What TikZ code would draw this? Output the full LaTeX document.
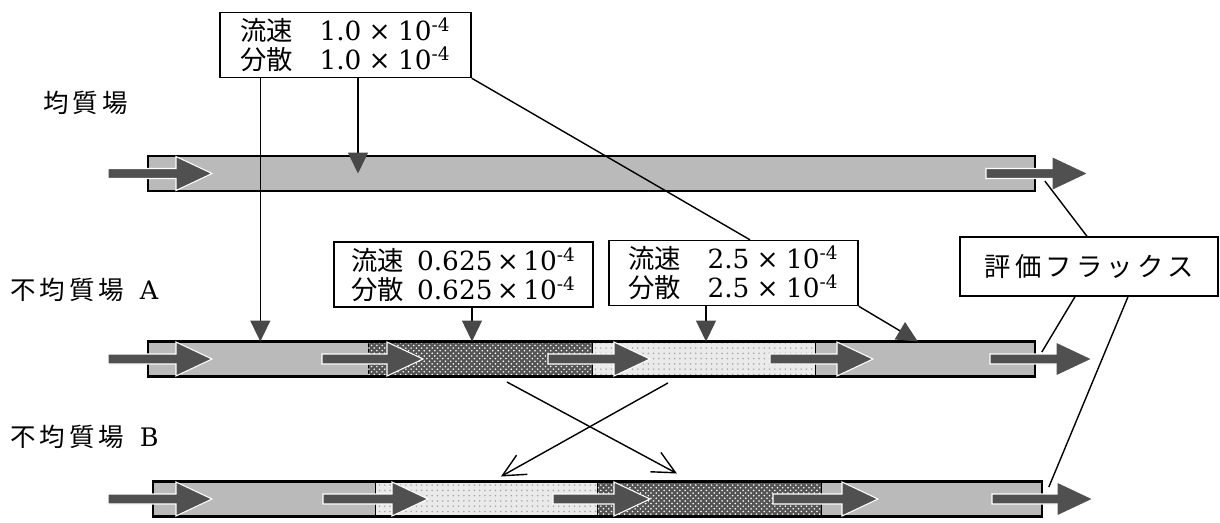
\documentclass[tikz,border=0pt]{standalone}
\usepackage{fontspec}
\setmainfont{DejaVu Serif}
\newfontfamily\cjk{Noto Sans CJK JP}
\newfontfamily\cjkwide{Noto Sans CJK JP}[LetterSpace=16]
\usepackage{tikz}
\usetikzlibrary{arrows.meta,positioning,patterns}
\definecolor{barmid}  {RGB}{186,186,186}
\definecolor{barlite} {RGB}{234,234,234}
\definecolor{bardark} {RGB}{84,84,84}
\definecolor{arrgray} {RGB}{80,80,80}
\definecolor{pingray} {RGB}{72,72,72}
\newcommand{\jp}[1]{{\cjk #1}}
% flow arrow inside a bar: x start, x tip, y
\newcommand{\flow}[3]{%
  \filldraw[flowarr] (#1,#3-5) -- (#2-36,#3-5) -- (#2-36,#3-17) -- (#2,#3)
    -- (#2-36,#3+17) -- (#2-36,#3+5) -- (#1,#3+5) -- cycle;}
\tikzset{
  seg/.style    ={draw, line width=0.5pt, minimum width=#1, minimum height=0.7cm,
                  inner sep=0pt, outer sep=0pt},
  midseg/.style ={seg=#1, fill=barmid},
  liteseg/.style={seg=#1, fill=barlite, postaction={pattern=dots, pattern color=black!35}},
  darkseg/.style={seg=#1, fill=bardark, postaction={pattern=crosshatch dots, pattern color=white}},
  barline/.style={line width=1.2pt},
  flowarr/.style={fill=arrgray, draw=white, line width=0.6pt},
  infobox/.style={draw, line width=0.8pt, fill=white, align=left,
                  font=\fontsize{15}{16.5}\selectfont, minimum height=1.3cm,
                  inner xsep=4pt, inner ysep=1.5pt},
  rowname/.style={anchor=west, inner sep=0pt, font=\fontsize{14.5}{17}\selectfont},
  pointer/.style={-{Triangle[length=0.42cm,width=0.4cm,color=pingray,fill=pingray]}, line width=0.8pt},
  lead/.style   ={line width=0.8pt},
  swaparr/.style={-{Straight Barb[length=0.45cm,width=0.44cm]}, line width=0.8pt},
}
\begin{document}
\begin{tikzpicture}[x=0.02cm, y=-0.02cm, node distance=0cm]
  \useasboundingbox (0,0) rectangle (1220,522);
  % bars
  \node[midseg=17.74cm, anchor=west] (h) at (148,173.5) {};
  \node[midseg=4.4cm, anchor=west] (a1) at (148,359) {};
  \node[darkseg=4.5cm, right=0cm of a1] (a2) {};
  \node[liteseg=4.46cm, right=0cm of a2] (a3) {};
  \node[midseg=4.38cm, right=0cm of a3] (a4) {};
  \node[midseg=4.44cm, anchor=west] (b1) at (153,499) {};
  \node[liteseg=4.46cm, right=0cm of b1] (b2) {};
  \node[darkseg=4.48cm, right=0cm of b2] (b3) {};
  \node[midseg=4.4cm, right=0cm of b3] (b4) {};
  \draw[barline] (h.north west) rectangle (h.south east);
  \draw[barline] (a1.north west) rectangle (a4.south east);
  \draw[barline] (b1.north west) rectangle (b4.south east);
  % flow arrows
  \foreach \s/\t in {108/212, 986/1088} {\flow{\s}{\t}{173.5}}
  \foreach \s/\t in {108/212, 322/423, 548/650, 770/873, 990/1092} {\flow{\s}{\t}{359}}
  \foreach \s/\t in {108/212, 323/428, 553/650, 773/878, 992/1093} {\flow{\s}{\t}{499}}
  % row names
  \node[rowname] (lh) at (43,103) {\cjkwide 均質場};
  \node[rowname] (la) at (10,290) {\cjkwide 不均質場\hspace{0.6em}{\rmfamily A}};
  \node[rowname] (lb) at (10,437) {\cjkwide 不均質場\hspace{0.6em}{\rmfamily B}};
  % value boxes
  \node[infobox, minimum width=5.02cm] (k10) at (345.5,45)
    {\jp{流速}\quad 1.0\;×\;10\textsuperscript{-4}\\\jp{分散}\quad 1.0\;×\;10\textsuperscript{-4}};
  \node[infobox, minimum width=5.18cm] (k0625) at (463.5,274.5)
    {\jp{流速}\enspace 0.625\,×\,10\textsuperscript{-4}\\\jp{分散}\enspace 0.625\,×\,10\textsuperscript{-4}};
  \node[infobox, minimum width=4.98cm] (k25) at (733.5,273)
    {\jp{流速}\quad 2.5\;×\;10\textsuperscript{-4}\\\jp{分散}\quad 2.5\;×\;10\textsuperscript{-4}};
  \node[infobox, minimum width=5.16cm, minimum height=1.18cm] (ev) at (1089,266.5)
    {\cjkwide 評価フラックス};
  % connectors
  \draw[pointer] ([xshift=0.25cm]k10.south) -- ([xshift=0.25cm]k10.south |- h.center);
  \draw[pointer] ([xshift=0.82cm]k10.south west) -- ([xshift=0.82cm]k10.south west |- a1.north);
  \draw[pointer] ([xshift=0.17cm]k0625.south) -- ([xshift=0.17cm]k0625.south |- a2.north);
  \draw[pointer] ([xshift=-0.55cm]k25.south) -- ([xshift=-0.55cm]k25.south |- a3.north);
  \draw[lead] (k10.south east) -- ([xshift=0.33cm]k25.north);
  \draw[pointer] (k25.south east) -- ([xshift=2.04cm]a4.north west);
  \draw[lead] ([xshift=-0.04cm]ev.north) -- ([shift={(0.2cm,-0.15cm)}]h.east);
  \draw[lead] ([xshift=-0.28cm]ev.south) -- ([shift={(0.14cm,0.14cm)}]a4.east);
  \draw[lead] ([xshift=0.78cm]ev.south) -- ([shift={(0.14cm,0.24cm)}]b4.east);
  \draw[swaparr] ([shift={(0.53cm,-0.11cm)}]a2.south) -- ([shift={(-0.66cm,0.16cm)}]b3.north);
  \draw[swaparr] ([shift={(-0.73cm,-0.13cm)}]a3.south) -- ([shift={(0.29cm,0.1cm)}]b2.north);
\end{tikzpicture}
\end{document}
